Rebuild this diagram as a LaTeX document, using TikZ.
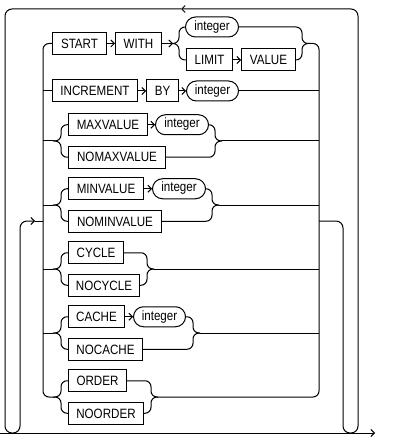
\documentclass[tikz,border=0pt]{standalone}
\usepackage{fontspec}
\setmainfont{Liberation Sans}[FakeStretch=0.86]
\usetikzlibrary{arrows.meta}
\begin{document}
\begin{tikzpicture}[x=1pt,y=-1pt,line width=1pt,
  >={Straight Barb[length=3.5pt,width=7pt]},
  rc/.style={rounded corners=6pt},
  rl/.style={rounded corners=7pt},
  kw/.style={draw,rectangle,minimum height=22pt,inner sep=1pt,anchor=west,
    text height=9.5pt,text depth=0pt,font=\fontsize{13.5}{15}\selectfont},
  ov/.style={draw,rectangle,rounded corners=10pt,minimum height=20pt,inner sep=1pt,anchor=west,
    text height=9pt,text depth=2.5pt,font=\fontsize{13.5}{15}\selectfont}]
\useasboundingbox (0,0) rectangle (412,438);

% row 1
\node[kw,minimum width=54pt] (start) at (52,43.5) {START};
\node[kw,minimum width=46pt] (with) at (115,43.5) {WITH};
\node[ov,minimum width=53pt] (int1) at (185,27) {integer};
\node[kw,minimum width=46pt] (limit) at (186,60) {LIMIT};
\node[kw,minimum width=54pt] (value) at (241,60) {VALUE};
% row 2
\node[kw,minimum width=85pt] (incr) at (52,91) {INCREMENT};
\node[kw,minimum width=32pt] (by) at (146,91) {BY};
\node[ov,minimum width=52pt] (int2) at (186,91) {integer};
% row 3
\node[kw,minimum width=79pt] (maxv) at (68,124.75) {MAXVALUE};
\node[ov,minimum width=53pt] (int3) at (155,124.75) {integer};
\node[kw,minimum width=97pt] (nomaxv) at (68,157.25) {NOMAXVALUE};
% row 4
\node[kw,minimum width=75pt] (minv) at (68,188.75) {MINVALUE};
\node[ov,minimum width=53pt] (int4) at (152,188.75) {integer};
\node[kw,minimum width=93pt] (nominv) at (68,221.25) {NOMINVALUE};
% row 5
\node[kw,minimum width=55pt] (cycle) at (68,252.75) {CYCLE};
\node[kw,minimum width=71pt] (nocycle) at (68,285.25) {NOCYCLE};
% row 6
\node[kw,minimum width=56pt] (cache) at (68,316.75) {CACHE};
\node[ov,minimum width=52pt] (int5) at (133,316.75) {integer};
\node[kw,minimum width=74pt] (nocache) at (68,349.25) {NOCACHE};
% row 7
\node[kw,minimum width=58pt] (order) at (68,380.75) {ORDER};
\node[kw,minimum width=75pt] (noorder) at (68,413.25) {NOORDER};

% coordinates
\coordinate (in) at (0,433);
\coordinate (out) at (375,433);
\coordinate (exitR) at (319,221);
\coordinate (topArrow) at (181,9);
\coordinate (entryArrow) at (35,221);
\coordinate (entryL) at (43,221);
\coordinate (j1) at (173,43.5);
\coordinate (k1) at (308,43.5);
\coordinate (l2) at (43,91);
\coordinate (r2) at (319,91);
\coordinate (l3) at (43,141);  \coordinate (s3) at (53,141);  \coordinate (t3) at (222,141); \coordinate (r3) at (319,141);
\coordinate (l4) at (43,205);  \coordinate (s4) at (53,205);  \coordinate (t4) at (219,205); \coordinate (r4) at (319,205);
\coordinate (l5) at (43,269);  \coordinate (s5) at (53,269);  \coordinate (t5) at (154,269); \coordinate (r5) at (319,269);
\coordinate (l6) at (43,333);  \coordinate (s6) at (53,333);  \coordinate (t6) at (200,333); \coordinate (r6) at (319,333);
\coordinate (s7) at (53,397);  \coordinate (t7) at (158,397);

% main line and loop
\draw[->] (in) -- (out);
\draw[rl,->] (exitR) -- (343,221) -- (343,433) -- (358,433) -- (358,9) -- (topArrow);
\draw[rl,->] (topArrow) -- (5,9) -- (5,433) -- (20,433) -- (20,221) -- (entryArrow);
\draw (entryArrow) -- (entryL);

% choice verticals
\draw[rc] (start.west) -- (43,43.5) -- (43,397) -- (s7);
\draw[rc] (k1) -- (319,43.5) -- (319,397) -- (t7);

% row 1
\draw[->] (start) -- (with);
\draw[->] (with) -- (j1);
\draw[rc] (j1) -- (179,43.5) -- (179,27) -- (int1.west);
\draw[rc] (j1) -- (179,43.5) -- (179,60) -- (limit.west);
\draw[->] (limit) -- (value);
\draw[rc] (int1.east) -- (302,27) -- (302,43.5) -- (k1);
\draw[rc] (value.east) -- (302,60) -- (302,43.5) -- (k1);

% row 2
\draw (l2) -- (incr.west);
\draw[->] (incr) -- (by);
\draw[->] (by) -- (int2);
\draw (int2.east) -- (r2);

% row 3
\draw (l3) -- (s3);
\draw[rc] (s3) -- (61,141) -- (61,124.75) -- (maxv.west);
\draw[rc] (s3) -- (61,141) -- (61,157.25) -- (nomaxv.west);
\draw[->] (maxv) -- (int3);
\draw[rc] (int3.east) -- (215,124.75) -- (215,141) -- (t3);
\draw[rc] (nomaxv.east) -- (215,157.25) -- (215,141) -- (t3);
\draw (t3) -- (r3);

% row 4
\draw (l4) -- (s4);
\draw[rc] (s4) -- (61,205) -- (61,188.75) -- (minv.west);
\draw[rc] (s4) -- (61,205) -- (61,221.25) -- (nominv.west);
\draw[->] (minv) -- (int4);
\draw[rc] (int4.east) -- (212,188.75) -- (212,205) -- (t4);
\draw[rc] (nominv.east) -- (212,221.25) -- (212,205) -- (t4);
\draw (t4) -- (r4);

% row 5
\draw (l5) -- (s5);
\draw[rc] (s5) -- (61,269) -- (61,252.75) -- (cycle.west);
\draw[rc] (s5) -- (61,269) -- (61,285.25) -- (nocycle.west);
\draw[rc] (cycle.east) -- (147,252.75) -- (147,269) -- (t5);
\draw[rc] (nocycle.east) -- (147,285.25) -- (147,269) -- (t5);
\draw (t5) -- (r5);

% row 6
\draw (l6) -- (s6);
\draw[rc] (s6) -- (61,333) -- (61,316.75) -- (cache.west);
\draw[rc] (s6) -- (61,333) -- (61,349.25) -- (nocache.west);
\draw[->] (cache) -- (int5);
\draw[rc] (int5.east) -- (193,316.75) -- (193,333) -- (t6);
\draw[rc] (nocache.east) -- (193,349.25) -- (193,333) -- (t6);
\draw (t6) -- (r6);

% row 7
\draw[rc] (s7) -- (61,397) -- (61,380.75) -- (order.west);
\draw[rc] (s7) -- (61,397) -- (61,413.25) -- (noorder.west);
\draw[rc] (order.east) -- (151,380.75) -- (151,397) -- (t7);
\draw[rc] (noorder.east) -- (151,413.25) -- (151,397) -- (t7);
\end{tikzpicture}
\end{document}
